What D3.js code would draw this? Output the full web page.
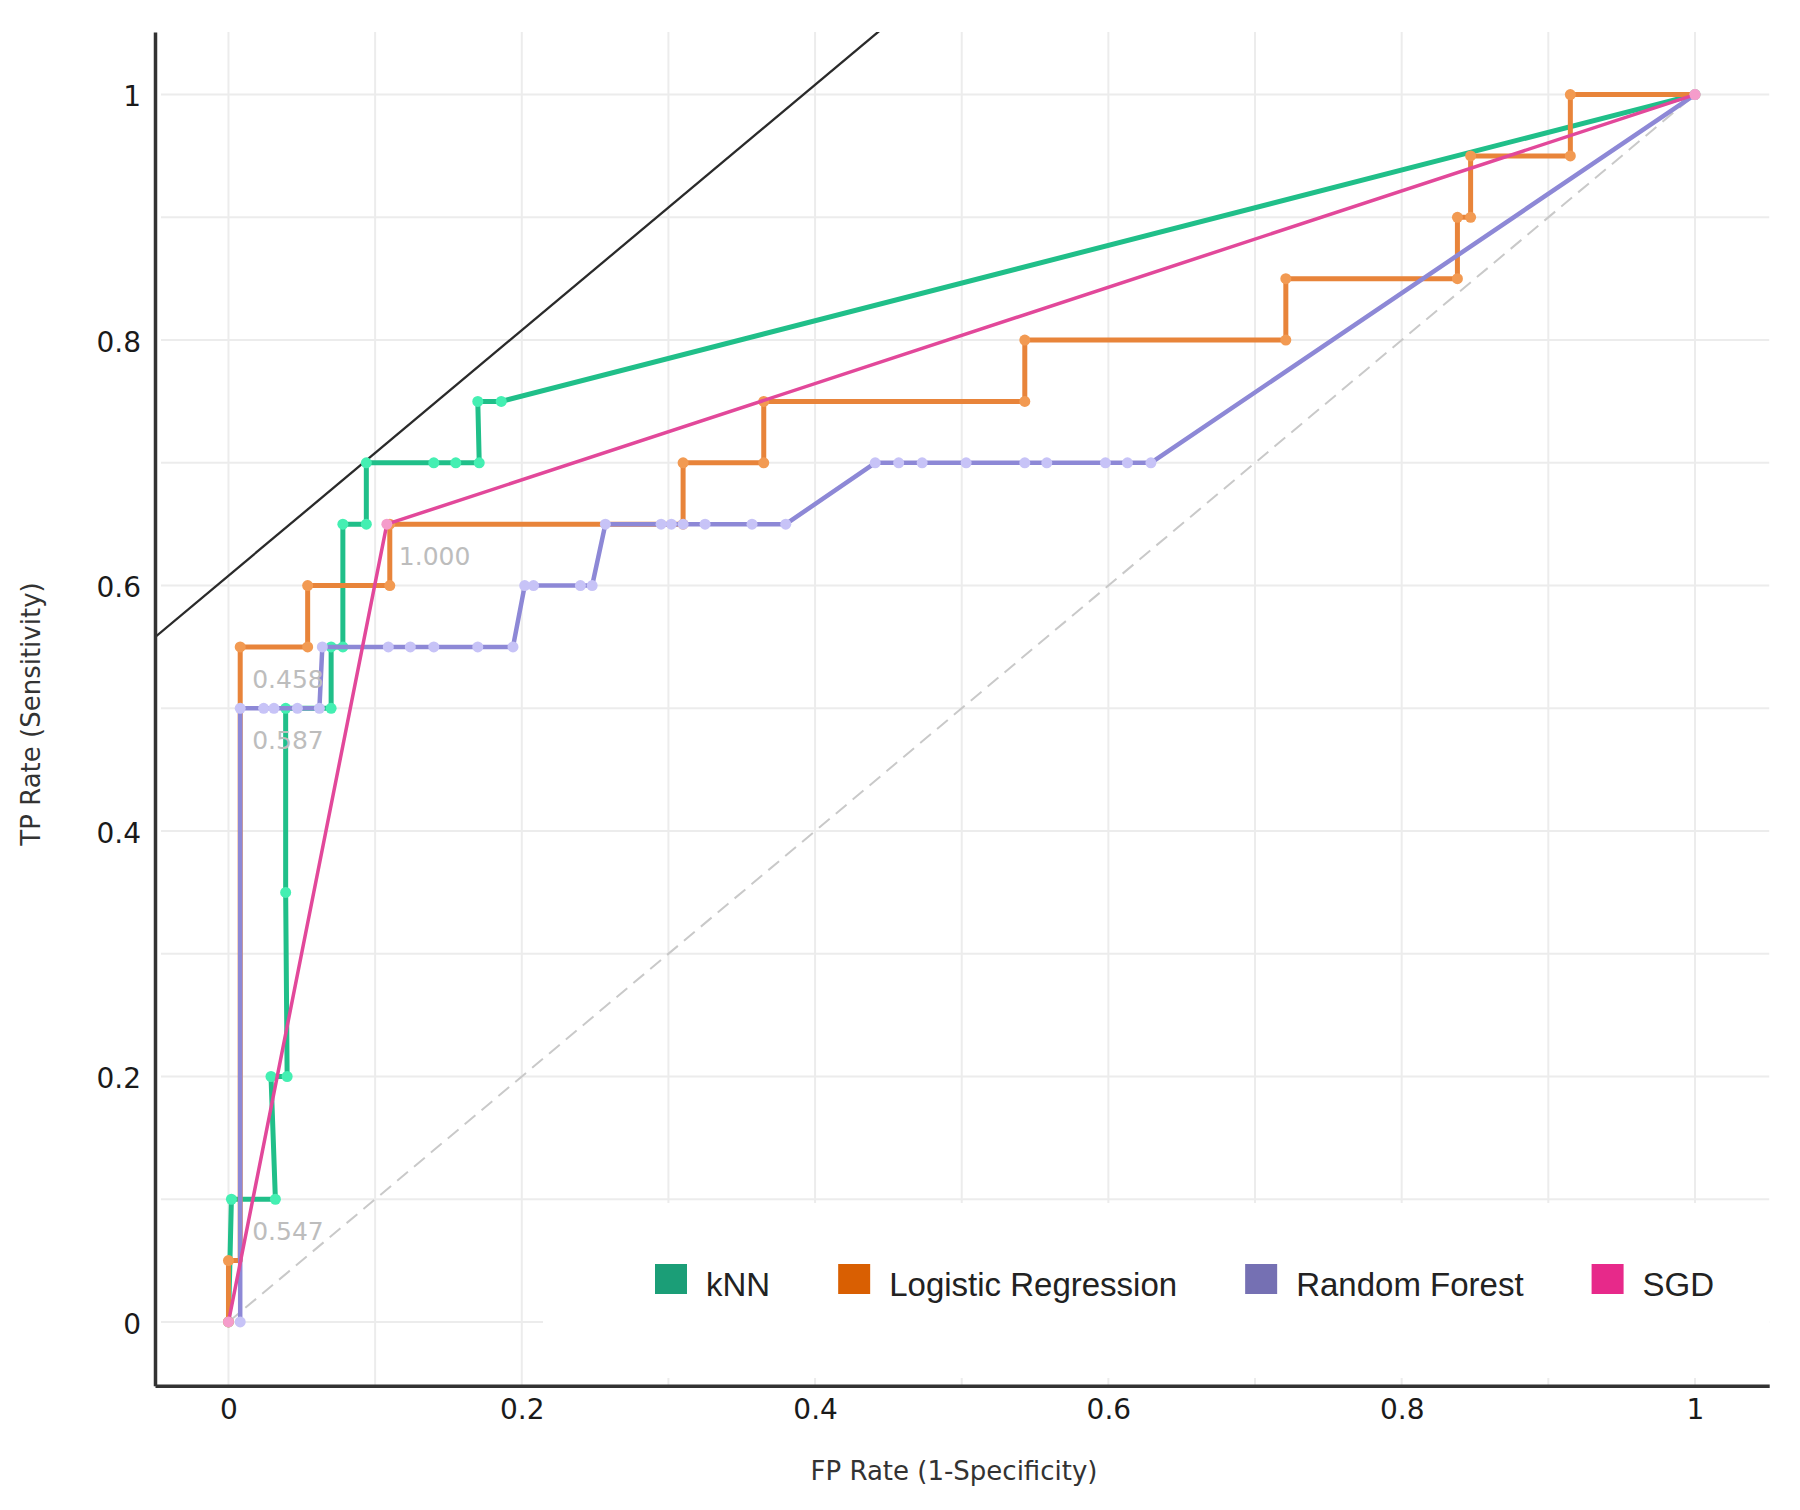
<!DOCTYPE html>
<html><head><meta charset="utf-8">
<script src="https://cdn.jsdelivr.net/npm/d3@7"></script>
<style>body{margin:0;background:#fff}</style>
</head><body><svg id="chart" width="1800" height="1510"></svg>
<script>
// ---------- data ----------
const seriesNames = ["kNN", "Logistic Regression", "Random Forest", "SGD"];

const knnFPR = [0, 0.002, 0.032, 0.029, 0.040, 0.039, 0.039, 0.070, 0.070, 0.078, 0.078, 0.094, 0.094, 0.140, 0.155, 0.171, 0.170, 0.186, 1];
const knnTPR = [0, 0.10, 0.10, 0.20, 0.20, 0.35, 0.50, 0.50, 0.55, 0.55, 0.65, 0.65, 0.70, 0.70, 0.70, 0.70, 0.75, 0.75, 1];

const lrFPR = [0, 0, 0.008, 0.008, 0.008, 0.054, 0.054, 0.110, 0.110, 0.310, 0.310, 0.365, 0.365, 0.543, 0.543, 0.721, 0.721, 0.838, 0.838, 0.847, 0.847, 0.915, 0.915, 1];
const lrTPR = [0, 0.05, 0.05, 0.50, 0.55, 0.55, 0.60, 0.60, 0.65, 0.65, 0.70, 0.70, 0.75, 0.75, 0.80, 0.80, 0.85, 0.85, 0.90, 0.90, 0.95, 0.95, 1, 1];
// points of the LR curve whose markers are hidden behind the Random Forest curve
const lrHidden = [2, 3];

const rfFPR = [0.008, 0.008, 0.024, 0.031, 0.047, 0.062, 0.064, 0.109, 0.124, 0.140, 0.170, 0.194, 0.202, 0.208, 0.240, 0.248, 0.257, 0.295, 0.302, 0.310, 0.325, 0.357, 0.380, 0.441, 0.457, 0.473, 0.503, 0.543, 0.558, 0.598, 0.613, 0.629, 1];
const rfTPR = [0, 0.50, 0.50, 0.50, 0.50, 0.50, 0.55, 0.55, 0.55, 0.55, 0.55, 0.55, 0.60, 0.60, 0.60, 0.60, 0.65, 0.65, 0.65, 0.65, 0.65, 0.65, 0.65, 0.70, 0.70, 0.70, 0.70, 0.70, 0.70, 0.70, 0.70, 0.70, 1];

const sgdFPR = [0, 0.108, 1];
const sgdTPR = [0, 0.65, 1];

const xTicks = [0, 0.2, 0.4, 0.6, 0.8, 1];
const yTicks = [0, 0.2, 0.4, 0.6, 0.8, 1];
const gridValues = [0, 0.1, 0.2, 0.3, 0.4, 0.5, 0.6, 0.7, 0.8, 0.9, 1];

const thresholdLabels = ["1.000", "0.458", "0.587", "0.547"];
const thresholdFPR = [0.108, 0.008, 0.008, 0.008];
const thresholdTPR = [0.65, 0.55, 0.50, 0.10];

// iso-performance tangent line: TPR = FPR + intercept
const isoIntercept = 0.608;

const xTitle = "FP Rate (1-Specificity)";
const yTitle = "TP Rate (Sensitivity)";

// ---------- styles ----------
const lineColors = ["#20bf89", "#e8843a", "#8d88d6", "#e2489a"];
const pointColors = ["#44efb2", "#f29a52", "#c7c3f7", "#f59ccb"];
const legendColors = ["#1b9e77", "#d95f02", "#7570b3", "#e7298a"];
const lineWidths = [5, 5, 4.5, 3.5];

const svg = d3.select("#chart");
const xDomain = [-0.0501, 1.0506], yDomain = [-0.052, 1.051];
const x = d3.scaleLinear().domain(xDomain).range([155, 1769.2]);
const y = d3.scaleLinear().domain(yDomain).range([1385.8, 32]);

svg.append("defs").append("clipPath").attr("id", "plotclip")
  .append("rect").attr("x", x(xDomain[0])).attr("y", y(yDomain[1]))
  .attr("width", x(xDomain[1]) - x(xDomain[0])).attr("height", y(yDomain[0]) - y(yDomain[1]));

// grid
const grid = svg.append("g");
grid.selectAll("line.v").data(gridValues).join("line").attr("class", "v")
  .attr("x1", d => x(d)).attr("x2", d => x(d))
  .attr("y1", y(yDomain[1])).attr("y2", y(yDomain[0]))
  .attr("stroke", "#ececec").attr("stroke-width", 2);
grid.selectAll("line.h").data(gridValues).join("line").attr("class", "h")
  .attr("x1", x(xDomain[0]) + 6).attr("x2", x(xDomain[1]))
  .attr("y1", d => y(d)).attr("y2", d => y(d))
  .attr("stroke", "#ececec").attr("stroke-width", 2);

// legend background covering grid
svg.append("rect")
  .attr("x", 543).attr("y", 1203).attr("width", x(xDomain[1]) - 543).attr("height", 175)
  .attr("fill", "#fff");

// diagonal
svg.append("line")
  .attr("x1", x(0)).attr("y1", y(0)).attr("x2", x(1)).attr("y2", y(1))
  .attr("stroke", "#c9c9c9").attr("stroke-width", 2).attr("stroke-dasharray", "14,8");

// iso line
const plot = svg.append("g").attr("clip-path", "url(#plotclip)");
plot.append("line")
  .attr("x1", x(xDomain[0])).attr("y1", y(xDomain[0] + isoIntercept))
  .attr("x2", x(yDomain[1] - isoIntercept + 0.05)).attr("y2", y(yDomain[1] + 0.05))
  .attr("stroke", "#2a2a2a").attr("stroke-width", 2.3);

// curves
const curves = [
  {fpr: knnFPR, tpr: knnTPR, hidden: []},
  {fpr: lrFPR, tpr: lrTPR, hidden: lrHidden},
  {fpr: rfFPR, tpr: rfTPR, hidden: []},
  {fpr: sgdFPR, tpr: sgdTPR, hidden: []}
];
const line = d3.line().x(d => x(d[0])).y(d => y(d[1]));
curves.forEach((c, i) => {
  const pts = c.fpr.map((f, k) => [f, c.tpr[k], k]);
  const g = svg.append("g");
  g.append("path").attr("d", line(pts)).attr("fill", "none")
    .attr("stroke", lineColors[i]).attr("stroke-width", lineWidths[i])
    .attr("stroke-linejoin", "round");
  g.selectAll("circle").data(pts.filter(p => !c.hidden.includes(p[2]))).join("circle")
    .attr("cx", d => x(d[0])).attr("cy", d => y(d[1])).attr("r", 5.5)
    .attr("fill", pointColors[i]);
});

// threshold labels
svg.append("g").selectAll("text").data(thresholdLabels).join("text")
  .attr("x", (d, i) => x(thresholdFPR[i]) + 12)
  .attr("y", (d, i) => y(thresholdTPR[i]) + 41)
  .attr("font-family", "DejaVu Sans").attr("font-size", 25).attr("fill", "#bdbdbd")
  .text(d => d);

// axes
const fmt = d3.format("~g");
const xAxis = svg.append("g").attr("transform", `translate(0,${y(yDomain[0])})`)
  .call(d3.axisBottom(x).tickValues(xTicks).tickSize(0).tickPadding(13).tickFormat(fmt));
const yAxis = svg.append("g").attr("transform", `translate(${x(xDomain[0])},0)`)
  .call(d3.axisLeft(y).tickValues(yTicks).tickSize(0).tickPadding(14).tickFormat(fmt));
[xAxis, yAxis].forEach(a => {
  a.select(".domain").attr("stroke", "#333").attr("stroke-width", 3.5);
  a.selectAll("text").attr("font-family", "DejaVu Sans").attr("font-size", 28)
    .attr("fill", "#1a1a1a");
});
yAxis.selectAll("text").attr("dy", "0.4em");

// titles
svg.append("text").attr("x", 954).attr("y", 1480).attr("text-anchor", "middle")
  .attr("font-family", "DejaVu Sans").attr("font-size", 26).attr("fill", "#333").text(xTitle);
svg.append("text").attr("transform", "translate(40,714) rotate(-90)").attr("text-anchor", "middle")
  .attr("font-family", "DejaVu Sans").attr("font-size", 26).attr("fill", "#333").text(yTitle);

// legend
const legend = svg.append("g");
let cx = 655;
seriesNames.forEach((name, i) => {
  legend.append("rect").attr("x", cx).attr("y", 1264).attr("width", 32).attr("height", 30)
    .attr("fill", legendColors[i]);
  const t = legend.append("text").attr("x", cx + 51).attr("y", 1296)
    .attr("font-family", "Liberation Sans").attr("font-size", 33).attr("fill", "#222").text(name);
  cx += 51 + t.node().getComputedTextLength() + 68;
});
</script></body></html>
